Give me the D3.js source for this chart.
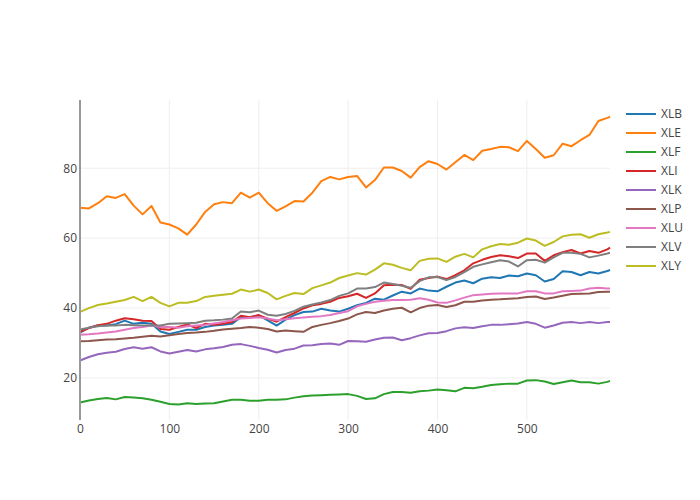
<!DOCTYPE html>
<html>
<head>
<meta charset="utf-8">
<script src="https://cdn.jsdelivr.net/npm/d3@7/dist/d3.min.js"></script>
<style>
  html, body { margin: 0; padding: 0; background: #fff; }
  svg text { font-family: "Open Sans", "Noto Sans", sans-serif; }
</style>
</head>
<body>
<svg id="chart" width="700" height="500"></svg>
<script>
const xs = [0,10,20,30,40,50,60,70,80,90,100,110,120,130,140,150,160,170,180,190,200,210,220,230,240,250,260,270,280,290,300,310,320,330,340,350,360,370,380,390,400,410,420,430,440,450,460,470,480,490,500,510,520,530,540,550,560,570,580,590,593];

const seriesNames = ["XLB","XLE","XLF","XLI","XLK","XLP","XLU","XLV","XLY"];
const colors = ["#1f77b4","#ff7f0e","#2ca02c","#d62728","#9467bd","#8c564b","#e377c2","#7f7f7f","#bcbd22"];

const XLB = [33,34.4,35,35,35.4,36.4,35.5,35.8,35.5,33.3,32.6,33.2,33.8,33.8,34.6,35,35.2,35.5,37.4,37.4,37.9,36.5,35,36.7,38,38.9,39,39.8,39.3,39,39.8,40.8,41.5,42.7,42.4,43.6,44.7,44.2,45.6,45,44.8,46.1,47.3,47.9,47.1,48.4,48.8,48.6,49.3,49.1,49.9,49.4,47.6,48.3,50.5,50.3,49.4,50.3,49.9,50.6,50.9];
const XLE = [68.7,68.5,70,72,71.5,72.6,69.3,66.8,69.2,64.5,63.9,62.8,61,63.9,67.5,69.7,70.3,70,73,71.6,73,70,67.8,69.1,70.6,70.5,73,76.3,77.5,76.8,77.5,77.8,74.5,76.6,80.2,80.2,79.2,77.3,80.3,82,81.2,79.6,81.7,83.8,82.3,85,85.5,86.1,86,84.9,87.8,85.5,83,83.7,87,86.3,88,89.5,93.5,94.4,94.7];
const XLF = [13,13.6,14,14.3,13.9,14.6,14.4,14.2,13.8,13.2,12.6,12.4,12.8,12.6,12.7,12.8,13.3,13.8,13.8,13.5,13.5,13.8,13.8,13.9,14.4,14.8,15,15.1,15.2,15.3,15.4,14.9,14,14.2,15.4,16,16,15.8,16.2,16.4,16.7,16.5,16.2,17.2,17.1,17.5,18,18.2,18.4,18.4,19.3,19.4,19,18.3,18.8,19.3,18.8,18.8,18.4,18.9,19.2];
const XLI = [33.2,34.3,35.1,35.5,36.4,37.1,36.8,36.4,36.3,34,33.8,34.6,35.3,34.3,35.5,35.2,35.5,36,37.8,37.4,38,37,36.1,37.4,38.6,39.9,40.8,41.2,41.8,42.9,43.4,44.1,42.9,44.2,46.5,46.7,46.6,45.5,48.1,48.6,49,48.3,49.4,50.8,52.8,53.8,54.6,55.1,54.8,54.3,55.6,55.6,53.5,55.1,56,56.6,55.6,56.3,55.8,56.8,57.3];
const XLK = [25,26,26.8,27.2,27.5,28.3,28.8,28.4,28.8,27.6,27,27.5,28,27.6,28.2,28.5,28.9,29.5,29.7,29.2,28.6,28.1,27.3,28,28.4,29.3,29.4,29.7,29.9,29.5,30.6,30.5,30.4,31,31.5,31.6,30.8,31.4,32.2,32.8,32.9,33.4,34.2,34.5,34.3,34.8,35.2,35.2,35.4,35.6,36,35.5,34.4,35,35.8,36,35.7,36,35.7,36,36];
const XLP = [30.5,30.6,30.8,31,31.1,31.3,31.5,31.8,32.1,31.9,32.2,32.6,32.9,33,33.2,33.5,33.9,34.1,34.3,34.6,34.4,34,33.3,33.6,33.4,33.2,34.6,35.2,35.7,36.3,37,38.2,38.9,38.6,39.3,39.8,40.1,38.8,40,40.7,40.9,40.3,40.8,41.8,41.8,42.2,42.4,42.5,42.7,42.8,43.2,43.3,42.6,43,43.5,44,44.1,44.2,44.6,44.7,44.7];
const XLU = [32.4,32.5,32.7,33,33.3,33.8,34.3,34.6,35,34.6,34.6,34.4,34.8,35,35.2,35.6,36,36.5,37,37.2,37.4,37,36.5,36.8,37.1,37.3,37.5,37.7,38,38.6,39.1,40.5,41.2,41.8,42.1,42.3,42.3,42.4,42.8,42.4,41.6,41.5,42.2,43,43.7,43.9,44.1,44.2,44.2,44.2,44.8,44.8,44.2,44.2,44.8,44.9,45,45.6,45.8,45.6,45.6];
const XLV = [33.9,34.4,34.8,35,35,35.2,35.1,35,35,35,35.5,35.6,35.7,35.8,36.4,36.5,36.7,37,39,38.8,39.3,38.1,37.8,38.3,39.2,40.4,41,41.6,42.3,43.5,44.2,45.6,45.6,46,47.3,46.9,46.4,45.8,47.7,48.8,48.9,48,48.9,50.3,51.8,52.5,53.1,53.7,53.3,51.9,53.7,53.8,53,54.5,55.8,55.8,55.5,54.5,55,55.6,55.8];
const XLY = [38.9,40,40.9,41.3,41.8,42.3,43.2,42,43.2,41.5,40.5,41.5,41.5,42,43.2,43.5,43.8,44.1,45.3,44.7,45.3,44.3,42.5,43.5,44.3,44,45.7,46.5,47.3,48.6,49.3,50,49.6,51,52.8,52.4,51.5,50.8,53.5,54.1,54.2,53.2,54.7,55.5,54.5,56.8,57.7,58.3,58.1,58.7,59.9,59.3,57.8,58.9,60.5,61,61.1,60.1,61.1,61.6,61.8];

const seriesValues = [XLB, XLE, XLF, XLI, XLK, XLP, XLU, XLV, XLY];
const xTicks = [0,100,200,300,400,500];
const yTicks = [20,40,60,80];

const svg = d3.select("#chart");
const plotLeft = 80, plotRight = 610, plotTop = 100, plotBottom = 420;

const x = d3.scaleLinear().domain([0, 593]).range([plotLeft, plotRight]);
const y = d3.scaleLinear().domain([8, 99.5]).range([plotBottom, plotTop]);

// gridlines
const grid = svg.append("g");
grid.selectAll("line.xg").data(xTicks.filter(d => d !== 0)).enter().append("line")
  .attr("x1", d => x(d)).attr("x2", d => x(d))
  .attr("y1", plotTop).attr("y2", plotBottom)
  .attr("stroke", "#eee").attr("stroke-width", 1);
grid.selectAll("line.yg").data(yTicks).enter().append("line")
  .attr("x1", plotLeft).attr("x2", plotRight)
  .attr("y1", d => y(d)).attr("y2", d => y(d))
  .attr("stroke", "#eee").attr("stroke-width", 1);

// axes (labels only)
const xAxis = d3.axisBottom(x).tickValues(xTicks).tickSize(0).tickPadding(0);
const gx = svg.append("g").attr("transform", `translate(0,${plotBottom})`).call(xAxis);
gx.select(".domain").remove();
gx.selectAll("text").attr("font-size", 12).attr("fill", "#444")
  .attr("font-family", '"Open Sans", sans-serif').attr("dy", "1.1em");

const yAxis = d3.axisLeft(y).tickValues(yTicks).tickSize(0).tickPadding(3);
const gy = svg.append("g").attr("transform", `translate(${plotLeft},0)`).call(yAxis);
gy.select(".domain").remove();
gy.selectAll("text").attr("font-size", 12).attr("fill", "#444")
  .attr("font-family", '"Open Sans", sans-serif');

// lines
const line = d3.line().x((d, i) => x(xs[i])).y(d => y(d));
const linesG = svg.append("g");
seriesValues.forEach((vals, k) => {
  linesG.append("path").datum(vals)
    .attr("d", line)
    .attr("fill", "none")
    .attr("stroke", colors[k])
    .attr("stroke-width", 2)
    .attr("stroke-linejoin", "round");
});

// zero line at x=0
svg.append("line")
  .attr("x1", x(0)).attr("x2", x(0))
  .attr("y1", plotTop).attr("y2", plotBottom)
  .attr("stroke", "#999").attr("stroke-width", 2);

// legend
const legend = svg.append("g");
seriesNames.forEach((name, k) => {
  const ly = 114 + k * 19;
  legend.append("line")
    .attr("x1", 626).attr("x2", 656).attr("y1", ly).attr("y2", ly)
    .attr("stroke", colors[k]).attr("stroke-width", 2);
  legend.append("text")
    .attr("x", 661).attr("y", ly).attr("dy", "0.35em")
    .attr("font-size", 12).attr("fill", "#444")
    .text(name);
});
</script>
</body>
</html>
